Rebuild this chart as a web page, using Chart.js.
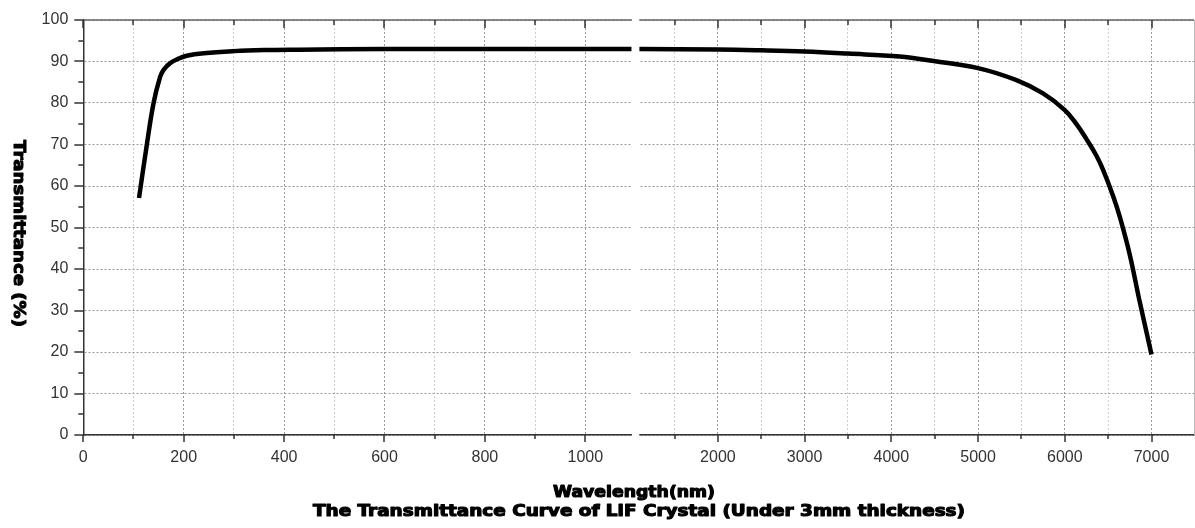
<!DOCTYPE html>
<html><head><meta charset="utf-8">
<script src="https://cdn.jsdelivr.net/npm/chart.js@4/dist/chart.umd.min.js"></script>
<style>html,body{margin:0;padding:0;background:#fff}#wrap{width:1195px;height:528px}</style>
</head><body><div id="wrap"><canvas id="c" width="1195" height="528"></canvas></div>
<script>
// ---- data ----
const uvWavelength    = [111, 126, 140, 153, 160, 173, 190, 206, 240, 300, 360, 430, 600, 800, 1000, 1092];
const uvTransmittance = [57.1, 69.5, 80, 86.3, 88.0, 89.6, 90.7, 91.4, 92.0, 92.5, 92.75, 92.85, 93, 93, 93, 93];
const irWavelength    = [1095, 2000, 2500, 3000, 3500, 4096, 4490, 5000, 5443, 5749, 6000, 6135, 6250, 6365, 6442, 6557, 6634, 6750, 6860, 7000];
const irTransmittance = [93, 92.9, 92.7, 92.4, 91.9, 91.2, 90.1, 88.4, 85.5, 82.3, 78.3, 74.9, 71.3, 67.3, 63.9, 57.6, 52.6, 43.4, 32.5, 19.4];
const leftTicks  = [0, 100, 200, 300, 400, 500, 600, 700, 800, 900, 1000];
const rightTicks = [1500, 2000, 2500, 3000, 3500, 4000, 4500, 5000, 5500, 6000, 6500, 7000];
const yTicks     = [0, 5, 10, 15, 20, 25, 30, 35, 40, 45, 50, 55, 60, 65, 70, 75, 80, 85, 90, 95, 100];
const yTitle  = 'Transmittance (%)';
const xTitle  = 'Wavelength(nm)';
const caption = 'The Transmittance Curve of LiF Crystal (Under 3mm thickness)';

const tickFont = {family: "'Liberation Sans', Arial, sans-serif", size: 16};
const tickColor = '#333';
const majL = v => v % 200 === 0;
const majR = v => v % 1000 === 0;
const majY = v => v % 10 === 0;
const gridCol = (isMaj) => c => (c.tick && isMaj(c.tick.value)) ? '#9a9a9a' : '#cfcfcf';
const noPadX = s => { s.height = 93; s.paddingLeft = 0; s.paddingRight = 0; };

function drawScaledText(ctx, text, cx, cy, targetW, font, rot) {
  ctx.save();
  ctx.font = font;
  const w = ctx.measureText(text).width;
  ctx.translate(cx, cy);
  if (rot) ctx.rotate(rot);
  ctx.scale(targetW / w, 1);
  ctx.textAlign = 'center';
  ctx.textBaseline = 'middle';
  ctx.fillStyle = '#000';
  ctx.strokeStyle = '#000';
  ctx.lineWidth = 1.1;
  ctx.lineJoin = 'round';
  ctx.fillText(text, 0, 0);
  ctx.strokeText(text, 0, 0);
  ctx.restore();
}

const panelPlugin = {
  id: 'panels',
  beforeDatasetsDraw(chart) {
    const ctx = chart.ctx, ca = chart.chartArea;
    const xl = chart.scales.xl, xr = chart.scales.xr, y = chart.scales.y;
    const g0 = xl.getPixelForValue(1093);
    const g1 = xr.getPixelForValue(1093);
    ctx.save();
    // break between the two panels
    ctx.fillStyle = '#fff';
    ctx.fillRect(g0, ca.top - 4, g1 - g0, ca.bottom - ca.top + 8);
    // top frame
    ctx.strokeStyle = '#666';
    ctx.lineWidth = 1.5;
    ctx.beginPath();
    ctx.moveTo(ca.left, ca.top); ctx.lineTo(g0, ca.top);
    ctx.moveTo(g1, ca.top); ctx.lineTo(ca.right, ca.top);
    ctx.stroke();
    // right frame (faint)
    ctx.strokeStyle = '#bbb';
    ctx.lineWidth = 1;
    ctx.beginPath();
    ctx.moveTo(ca.right + 0.5, ca.top); ctx.lineTo(ca.right + 0.5, ca.bottom);
    ctx.stroke();
    // tick marks
    ctx.strokeStyle = '#333';
    ctx.lineWidth = 1.5;
    ctx.beginPath();
    const xt = (scale, vals, isMaj) => vals.forEach(v => {
      const px = Math.round(scale.getPixelForValue(v));
      const m = isMaj(v);
      ctx.moveTo(px, ca.bottom); ctx.lineTo(px, ca.bottom + (m ? 7 : 4));
      ctx.moveTo(px, ca.top); ctx.lineTo(px, ca.top + (m ? 8 : 5));
    });
    xt(xl, leftTicks, majL);
    xt(xr, rightTicks, majR);
    yTicks.forEach(v => {
      const py = Math.round(y.getPixelForValue(v));
      const m = majY(v);
      ctx.moveTo(ca.left, py); ctx.lineTo(ca.left - (m ? 9 : 5), py);
    });
    ctx.stroke();
    ctx.restore();
  },
  afterDraw(chart) {
    const ctx = chart.ctx;
    drawScaledText(ctx, yTitle, 18.5, 233.5, 187, "bold 16px 'DejaVu Sans', sans-serif", Math.PI / 2);
    drawScaledText(ctx, xTitle, 634, 493, 162, "bold 15px 'DejaVu Sans', sans-serif", 0);
    drawScaledText(ctx, caption, 639, 512, 652, "bold 15px 'DejaVu Sans', sans-serif", 0);
  }
};

new Chart(document.getElementById('c'), {
  type: 'line',
  data: {
    datasets: [
      {data: uvWavelength.map((x, i) => ({x, y: uvTransmittance[i]})), xAxisID: 'xl', yAxisID: 'y'},
      {data: irWavelength.map((x, i) => ({x, y: irTransmittance[i]})), xAxisID: 'xr', yAxisID: 'y'}
    ]
  },
  options: {
    responsive: false,
    animation: false,
    devicePixelRatio: 1,
    layout: {padding: {left: 0, right: 1, top: 20, bottom: 0}},
    elements: {
      line: {borderColor: '#000', borderWidth: 4.5, tension: 0.4, fill: false, borderCapStyle: 'butt', borderJoinStyle: 'round'},
      point: {radius: 0, hoverRadius: 0}
    },
    plugins: {legend: {display: false}, title: {display: false}, tooltip: {enabled: false}},
    scales: {
      xl: {
        type: 'linear', position: 'bottom', stack: 'x', stackWeight: 551.9,
        min: 0, max: 1100,
        afterBuildTicks: s => { s.ticks = leftTicks.map(v => ({value: v})); },
        afterFit: noPadX,
        ticks: {callback: v => majL(v) ? String(v) : '', font: tickFont, color: tickColor, padding: 13, maxRotation: 0, autoSkip: false},
        grid: {color: gridCol(majL), lineWidth: 1, drawTicks: false},
        border: {display: true, color: '#333', width: 1.5, dash: [2, 2]}
      },
      xr: {
        type: 'linear', position: 'bottom', stack: 'x', stackWeight: 558.2,
        min: 1050, max: 7490,
        afterBuildTicks: s => { s.ticks = rightTicks.map(v => ({value: v})); },
        afterFit: noPadX,
        ticks: {callback: v => majR(v) ? String(v) : '', font: tickFont, color: tickColor, padding: 13, maxRotation: 0, autoSkip: false},
        grid: {color: gridCol(majR), lineWidth: 1, drawTicks: false},
        border: {display: true, color: '#333', width: 1.5, dash: [2, 2]}
      },
      y: {
        type: 'linear', position: 'left', min: 0, max: 100,
        afterBuildTicks: s => { s.ticks = yTicks.map(v => ({value: v})); },
        afterFit: s => { s.width = 83.3; s.paddingTop = 0; s.paddingBottom = 0; },
        ticks: {callback: v => majY(v) ? String(v) : '', font: tickFont, color: tickColor, padding: 15},
        grid: {color: gridCol(majY), lineWidth: 1, drawTicks: false},
        border: {display: true, color: '#333', width: 1.5, dash: [2, 2]}
      }
    }
  },
  plugins: [panelPlugin]
});
</script>
</body></html>
